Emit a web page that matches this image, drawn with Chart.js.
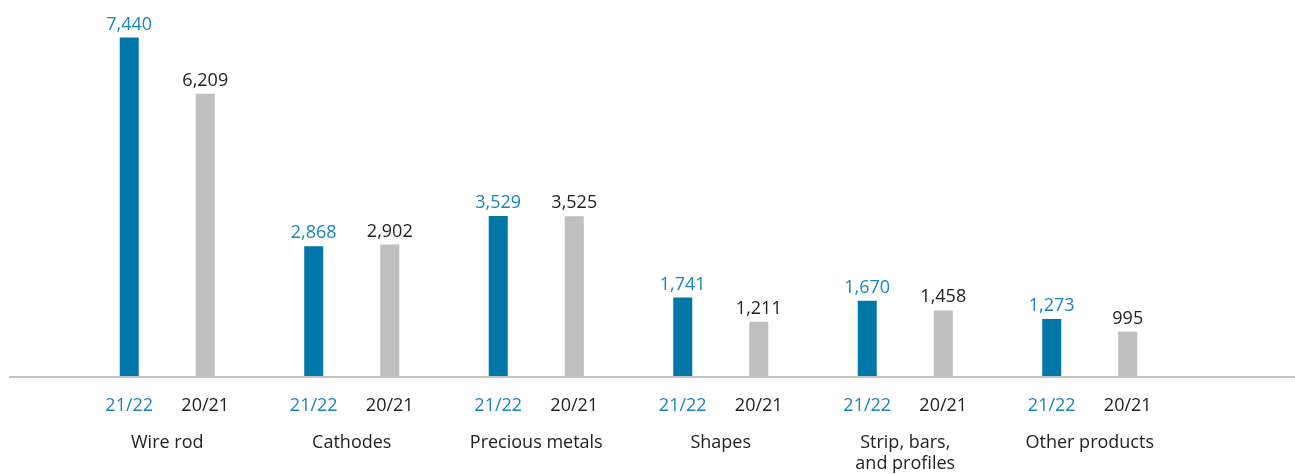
<!DOCTYPE html>
<html>
<head>
<meta charset="utf-8">
<script src="https://cdn.jsdelivr.net/npm/chart.js@4"></script>
<style>
  html, body { margin:0; padding:0; background:#fff; }
  #wrap { width:1295px; height:474px; position:relative; }
</style>
</head>
<body>
<div id="wrap"><canvas id="chart"></canvas></div>
<script>
// categories and values
const categories = [['Wire rod'], ['Cathodes'], ['Precious metals'], ['Shapes'], ['Strip, bars,', 'and profiles'], ['Other products']];
const seasons = ['21/22', '20/21'];
const values2122 = [7440, 2868, 3529, 1741, 1670, 1273];
const values2021 = [6209, 2902, 3525, 1211, 1458, 995];

const BLUE = '#0077a8';
const BLUE_TEXT = '#1a85b8';
const GREY = '#bfbfbf';
const DARK = '#222222';
const FONT = '18px "Open Sans", "Noto Sans", sans-serif';

// draws baseline, value labels, season labels and category names
const labelsPlugin = {
  id: 'labels',
  afterDatasetsDraw(chart) {
    const ctx = chart.ctx;
    const area = chart.chartArea;
    ctx.save();
    // baseline
    ctx.strokeStyle = '#c4c4c4';
    ctx.lineWidth = 2;
    ctx.beginPath();
    ctx.moveTo(9, area.bottom);
    ctx.lineTo(chart.width, area.bottom);
    ctx.stroke();

    ctx.font = FONT;
    ctx.textAlign = 'center';
    ctx.textBaseline = 'alphabetic';
    chart.data.datasets.forEach((ds, di) => {
      const meta = chart.getDatasetMeta(di);
      const color = di === 0 ? BLUE_TEXT : DARK;
      meta.data.forEach((bar, i) => {
        ctx.fillStyle = color;
        ctx.fillText(ds.data[i].toLocaleString('en-US'), bar.x, bar.y - 8);
        ctx.fillText(seasons[di], bar.x, area.bottom + 34);
      });
    });
    // category names
    const xs = chart.scales.x;
    ctx.fillStyle = DARK;
    categories.forEach((lines, i) => {
      const cx = xs.getPixelForValue(i);
      lines.forEach((t, li) => {
        ctx.fillText(t, cx, area.bottom + 71 + li * 21);
      });
    });
    ctx.restore();
  }
};

new Chart(document.getElementById('chart'), {
  type: 'bar',
  data: {
    labels: categories.map(c => c.join(' ')),
    datasets: [
      { label: seasons[0], data: values2122, backgroundColor: BLUE },
      { label: seasons[1], data: values2021, backgroundColor: GREY }
    ]
  },
  options: {
    responsive: true,
    maintainAspectRatio: false,
    animation: false,
    layout: { padding: { left: 75, right: 113, top: 12, bottom: 97 } },
    datasets: { bar: { categoryPercentage: 0.824, barPercentage: 0.25 } },
    plugins: { legend: { display: false }, tooltip: { enabled: false } },
    scales: {
      x: { display: false },
      y: { display: false, min: 0, max: 8000 }
    }
  },
  plugins: [labelsPlugin]
});
</script>
</body>
</html>
